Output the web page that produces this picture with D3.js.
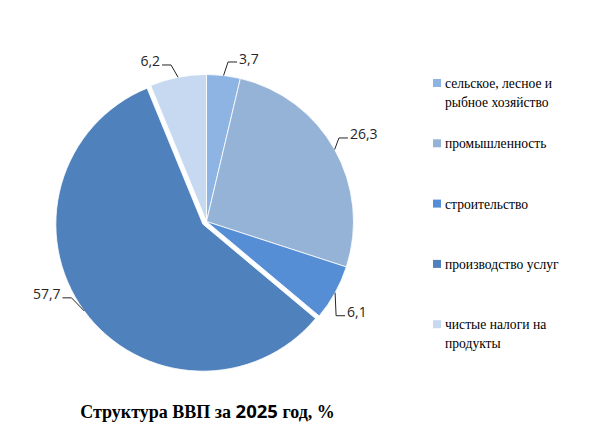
<!DOCTYPE html>
<html><head><meta charset="utf-8">
<script src="https://cdn.jsdelivr.net/npm/d3@7"></script>
<style>body{margin:0;background:#fff}
.serif{font-family:"Liberation Serif",serif}
.sans{font-family:"Open Sans",sans-serif}
</style>
</head><body>
<svg id="c" width="598" height="427"></svg>
<script>
const categories = ["сельское, лесное и рыбное хозяйство", "промышленность", "строительство", "производство услуг", "чистые налоги на продукты"];
const legendLines = [["сельское, лесное и", "рыбное хозяйство"], ["промышленность"], ["строительство"], ["производство услуг"], ["чистые налоги на", "продукты"]];
const values = [3.7, 26.3, 6.1, 57.7, 6.2];
const labels = ["3,7", "26,3", "6,1", "57,7", "6,2"];
const colors = ["#8EB4E3", "#95B3D7", "#558ED5", "#4F81BD", "#C6D9F1"];
const titleParts = ["Структура ВВП за ", "2025", " год, %"];

const svg = d3.select("#c");
const cx = 206.5, cy = 221.5, R = 147;
const explodeIdx = 3, explodeBy = 4.5;
// label layout: offset of leader end from the arc anchor point, side
const labelLayout = [
  {dx: 13.5, dy: -13.5, side: 1},
  {dx: 13.3, dy: -11.5, side: 1},
  {dx: 10, dy: 23, side: 1},
  {dx: -21.7, dy: -13.1, side: -1},
  {dx: -16, dy: -12.3, side: -1}
];

const pie = d3.pie().sort(null).value(d => d)(values);
const arc = d3.arc().innerRadius(0).outerRadius(R);
const g = svg.append("g").attr("transform", `translate(${cx},${cy})`);

function shift(d, i) {
  if (i !== explodeIdx) return [0, 0];
  const a = (d.startAngle + d.endAngle) / 2;
  return [Math.sin(a) * explodeBy, -Math.cos(a) * explodeBy];
}

g.selectAll("path.s").data(pie).join("path")
  .attr("class", "s")
  .attr("d", arc)
  .attr("transform", (d, i) => `translate(${shift(d, i)})`)
  .attr("fill", (d, i) => colors[i])
  .attr("stroke", "#fff").attr("stroke-width", 0.8);

pie.forEach((d, i) => {
  const a = (d.startAngle + d.endAngle) / 2;
  const [sx, sy] = shift(d, i);
  const px = sx + Math.sin(a) * R, py = sy - Math.cos(a) * R;
  const L = labelLayout[i];
  const lx = px + L.dx, ly = py + L.dy;
  const ex = lx - L.side * 9;
  g.append("polyline")
    .attr("points", `${px},${py} ${ex},${ly} ${lx},${ly}`)
    .attr("fill", "none").attr("stroke", "#262626").attr("stroke-width", 1);
  g.append("text").attr("class", "sans")
    .attr("x", lx + L.side * 2).attr("y", ly + 1.5)
    .attr("text-anchor", L.side > 0 ? "start" : "end")
    .attr("font-size", 14)
    .attr("fill", "#262626")
    .text(labels[i]);
});

// legend
const leg = svg.append("g");
const legY = d3.scalePoint().domain(d3.range(categories.length)).range([88, 329.2]);
categories.forEach((c, i) => {
  const y = legY(i);
  leg.append("rect").attr("x", 433).attr("y", y - 9).attr("width", 8).attr("height", 8).attr("fill", colors[i]);
  const t = leg.append("text").attr("class", "serif").attr("x", 445).attr("y", y)
    .attr("font-size", 13.6).attr("fill", "#000");
  legendLines[i].forEach((ln, k) => {
    t.append("tspan").attr("x", 445).attr("dy", k === 0 ? 0 : 19).text(ln);
  });
});

// title
const tt = svg.append("text").attr("x", 207.5).attr("y", 418).attr("text-anchor", "middle")
  .attr("font-weight", "bold").attr("font-size", 18).attr("fill", "#000");
tt.append("tspan").attr("class", "serif").text(titleParts[0]);
tt.append("tspan").attr("class", "sans").attr("font-size", 18.5).text(titleParts[1]);
tt.append("tspan").attr("class", "serif").text(titleParts[2]);
</script>
</body></html>
